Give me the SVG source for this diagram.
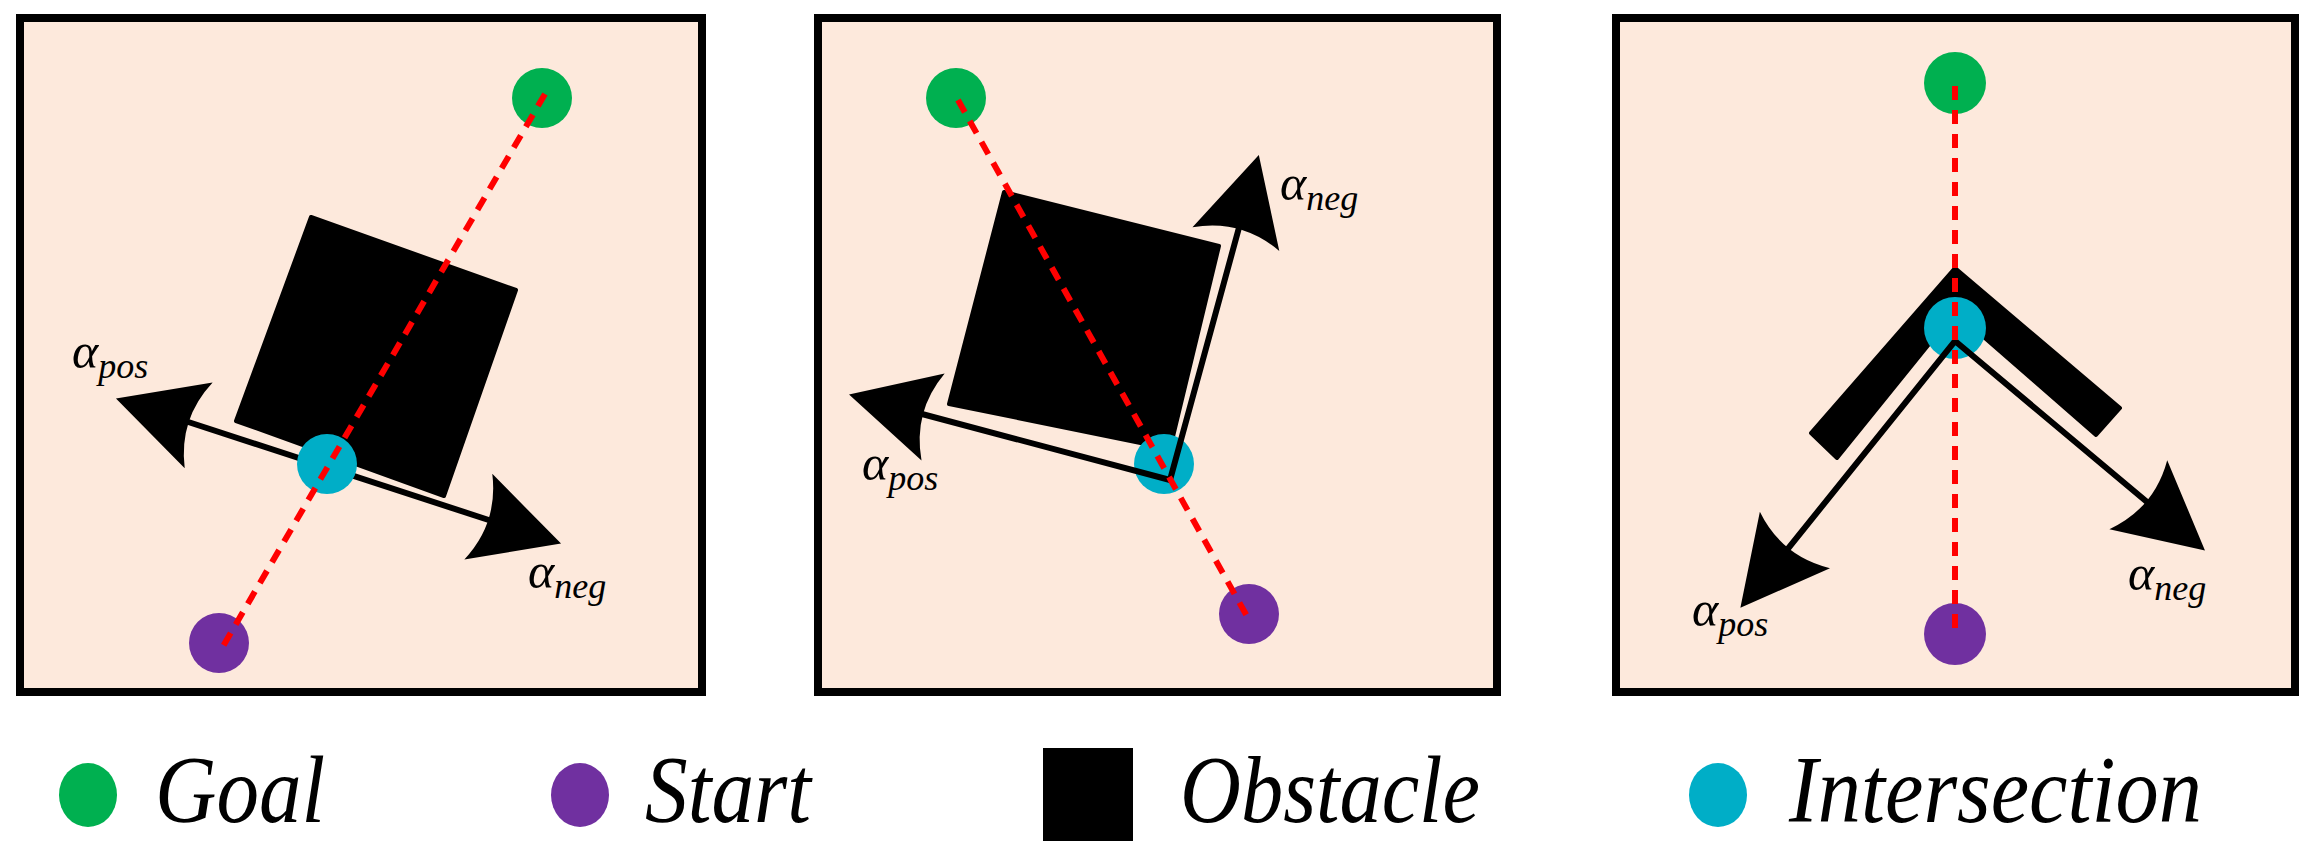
<svg xmlns="http://www.w3.org/2000/svg" width="2313" height="857" viewBox="0 0 2313 857">
<style>
.frame{fill:#fde9dc;stroke:#000;stroke-width:8}
.goal{fill:#00b050}.start{fill:#7030a0}.inter{fill:#00aec7}
.path{stroke:#ff0000;stroke-width:6;stroke-dasharray:14 10;fill:none}
.arr{stroke:#000;stroke-width:6;fill:none;marker-start:url(#ah);marker-end:url(#ah);stroke-linejoin:miter}
.lab{font-family:"Liberation Serif",serif;font-style:italic;font-size:50px;fill:#000}
.sub{font-size:36px}
.leg{font-family:"Liberation Serif",serif;font-style:italic;font-size:96px;fill:#000}
</style>
<defs>
<marker id="ah" markerUnits="userSpaceOnUse" orient="auto-start-reverse" refX="0" refY="0" markerWidth="120" markerHeight="120" viewBox="-30 -40 80 80" overflow="visible">
<path d="M40,0 L-18,-30 Q-4,0 -18,30 Z" fill="#000"/>
</marker>
</defs>
<g id="panel1">
<rect class="frame" x="20" y="18" width="682" height="674"/>
<polygon id="obstacle1" points="311,217 516,290 444,496 236,421" fill="#000" stroke="#000" stroke-width="4" stroke-linejoin="round"/>
<circle id="goal1" class="goal" cx="542" cy="98" r="30"/>
<circle id="start1" class="start" cx="219" cy="643" r="30"/>
<path class="arr" d="M173,417 L504,525"/>
<circle id="inter1" class="inter" cx="327" cy="464" r="30"/>
<text class="lab" x="72" y="368">α<tspan class="sub" dy="10">pos</tspan></text>
<text class="lab" x="528" y="588">α<tspan class="sub" dy="10">neg</tspan></text>
</g>
<g id="panel2">
<rect class="frame" x="818" y="18" width="679" height="674"/>
<polygon id="obstacle2" points="1004,192 1219,246 1170,449 949,404" fill="#000" stroke="#000" stroke-width="4" stroke-linejoin="round"/>
<circle id="goal2" class="goal" cx="956" cy="98" r="30"/>
<circle id="start2" class="start" cx="1249" cy="614" r="30"/>
<circle id="inter2" class="inter" cx="1164" cy="464" r="30"/>
<path class="arr" d="M907,410 L1170,480 L1243,213"/>
<text class="lab" x="1280" y="200">α<tspan class="sub" dy="10">neg</tspan></text>
<text class="lab" x="862" y="480">α<tspan class="sub" dy="10">pos</tspan></text>
</g>
<g id="panel3">
<rect class="frame" x="1616" y="18" width="679" height="674"/>
<polygon id="obstacle3" points="1955,268 2120,408 2096,435 1955,312 1837,458 1811,433" fill="#000" stroke="#000" stroke-width="4" stroke-linejoin="round"/>
<circle id="goal3" class="goal" cx="1955" cy="83" r="31"/>
<circle id="start3" class="start" cx="1955" cy="634" r="31"/>
<circle id="inter3" class="inter" cx="1955" cy="328" r="31"/>
<path class="arr" d="M1778,561 L1955,341 L2159,512"/>
<text class="lab" x="1692" y="626">α<tspan class="sub" dy="10">pos</tspan></text>
<text class="lab" x="2128" y="590">α<tspan class="sub" dy="10">neg</tspan></text>
</g>
<g id="connectors">
<line class="path" x1="545" y1="94" x2="222" y2="648"/>
<line class="path" x1="958" y1="100" x2="1248" y2="618"/>
<line class="path" x1="1955" y1="86" x2="1955" y2="634"/>
</g>
<g id="legend">
<g id="leg-goal"><ellipse class="goal" cx="88" cy="795" rx="29" ry="32"/><text class="leg" x="155" y="822" textLength="170" lengthAdjust="spacingAndGlyphs">Goal</text></g>
<g id="leg-start"><ellipse class="start" cx="580" cy="795" rx="29" ry="32"/><text class="leg" x="645" y="822" textLength="166" lengthAdjust="spacingAndGlyphs">Start</text></g>
<g id="leg-obstacle"><rect x="1043" y="748" width="90" height="93" fill="#000"/><text class="leg" x="1180" y="822" textLength="300" lengthAdjust="spacingAndGlyphs">Obstacle</text></g>
<g id="leg-inter"><ellipse class="inter" cx="1718" cy="795" rx="29" ry="32"/><text class="leg" x="1789" y="822" textLength="413" lengthAdjust="spacingAndGlyphs">Intersection</text></g>
</g>
</svg>
